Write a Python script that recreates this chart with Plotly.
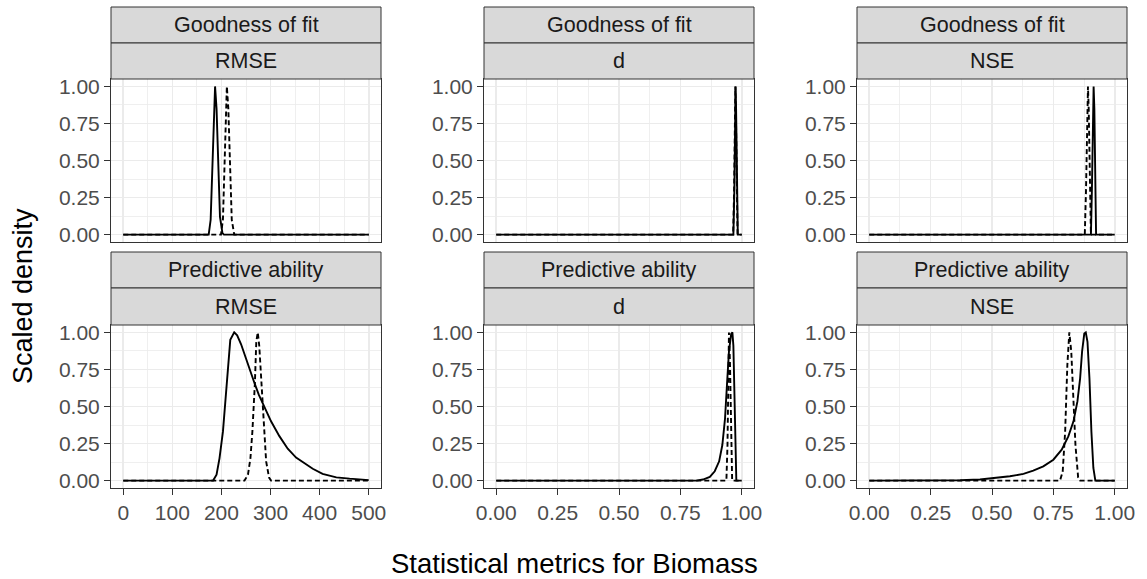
import plotly.graph_objects as go

W, H = 1147, 579

# ---------------- data ----------------
row_labels = ["Goodness of fit", "Predictive ability"]
metric_labels = ["RMSE", "d", "NSE"]

# Goodness of fit - RMSE
gof_rmse_solid_x = [0, 174, 178, 181, 184, 187, 190, 193, 197, 202, 205, 500]
gof_rmse_solid_y = [0, 0, 0.1, 0.4, 0.85, 1.0, 0.85, 0.45, 0.12, 0.01, 0, 0]
gof_rmse_dash_x = [0, 199, 203, 206, 209, 211, 214, 217, 221, 226, 500]
gof_rmse_dash_y = [0, 0, 0.1, 0.45, 0.88, 1.0, 0.85, 0.45, 0.1, 0, 0]

# Goodness of fit - d
gof_d_solid_x = [0, 0.966, 0.970, 0.973, 0.975, 0.977, 0.980, 0.984, 1.0]
gof_d_solid_y = [0, 0, 0.3, 0.85, 1.0, 0.85, 0.3, 0, 0]
gof_d_dash_x = [0, 0.965, 0.969, 0.972, 0.974, 0.976, 0.979, 0.983, 1.0]
gof_d_dash_y = [0, 0, 0.3, 0.85, 1.0, 0.85, 0.3, 0, 0]

# Goodness of fit - NSE
gof_nse_solid_x = [0, 0.903, 0.907, 0.911, 0.914, 0.917, 0.920, 0.924, 1.0]
gof_nse_solid_y = [0, 0, 0.3, 0.85, 1.0, 0.85, 0.3, 0, 0]
gof_nse_dash_x = [0, 0.878, 0.883, 0.888, 0.891, 0.894, 0.898, 0.903, 1.0]
gof_nse_dash_y = [0, 0, 0.3, 0.85, 1.0, 0.85, 0.3, 0, 0]

# Predictive ability - RMSE
pa_rmse_solid_x = [0, 183, 190, 196, 203, 209, 213, 218, 226, 232, 240, 249, 257,
                   266, 276, 288, 301, 318, 335, 352, 369, 386, 406, 434, 461, 500]
pa_rmse_solid_y = [0, 0, 0.04, 0.15, 0.33, 0.58, 0.80, 0.95, 1.0, 0.98, 0.92, 0.83,
                   0.75, 0.67, 0.58, 0.49, 0.40, 0.30, 0.215, 0.155, 0.115, 0.08, 0.045,
                   0.022, 0.013, 0.003]
pa_rmse_dash_x = [0, 247, 254, 259, 263, 268, 271, 274, 277, 281, 286, 291, 297, 301, 500]
pa_rmse_dash_y = [0, 0, 0.04, 0.15, 0.33, 0.65, 0.94, 1.0, 0.91, 0.69, 0.38, 0.13, 0.02, 0, 0]

# Predictive ability - d
pa_d_solid_x = [0, 0.815, 0.842, 0.870, 0.890, 0.908, 0.921, 0.932, 0.940, 0.948,
                0.957, 0.962, 0.966, 0.970, 0.974, 0.978, 1.0]
pa_d_solid_y = [0, 0, 0.007, 0.025, 0.063, 0.13, 0.24, 0.42, 0.65, 0.87, 0.99, 1.0,
                0.91, 0.58, 0.2, 0, 0]
pa_d_dash_x = [0, 0.9375, 0.942, 0.946, 0.948, 0.952, 0.957, 0.961, 1.0]
pa_d_dash_y = [0, 0, 0.24, 0.8, 1.0, 0.8, 0.24, 0, 0]

# Predictive ability - NSE
pa_nse_solid_x = [0, 0.30, 0.37, 0.451, 0.519, 0.573, 0.628, 0.668, 0.709, 0.75, 0.784,
                  0.811, 0.832, 0.848, 0.859, 0.867, 0.876, 0.882, 0.889, 0.897, 0.905,
                  0.913, 0.921, 1.0]
pa_nse_solid_y = [0, 0, 0.002, 0.007, 0.018, 0.029, 0.045, 0.067, 0.096, 0.141, 0.209,
                  0.298, 0.40, 0.534, 0.69, 0.87, 0.993, 1.0, 0.937, 0.69, 0.33,
                  0.085, 0, 0]
pa_nse_dash_x = [0, 0.777, 0.788, 0.798, 0.807, 0.815, 0.823, 0.832, 0.840, 0.851, 0.859, 1.0]
pa_nse_dash_y = [0, 0, 0.06, 0.33, 0.78, 1.0, 0.87, 0.53, 0.24, 0.02, 0, 0]

panels = [
    (gof_rmse_solid_x, gof_rmse_solid_y, gof_rmse_dash_x, gof_rmse_dash_y),
    (gof_d_solid_x, gof_d_solid_y, gof_d_dash_x, gof_d_dash_y),
    (gof_nse_solid_x, gof_nse_solid_y, gof_nse_dash_x, gof_nse_dash_y),
    (pa_rmse_solid_x, pa_rmse_solid_y, pa_rmse_dash_x, pa_rmse_dash_y),
    (pa_d_solid_x, pa_d_solid_y, pa_d_dash_x, pa_d_dash_y),
    (pa_nse_solid_x, pa_nse_solid_y, pa_nse_dash_x, pa_nse_dash_y),
]

x_ticks_rmse = [0, 100, 200, 300, 400, 500]
x_ticks_unit = [0, 0.25, 0.5, 0.75, 1.0]
x_ticklabels_rmse = ["0", "100", "200", "300", "400", "500"]
x_ticklabels_unit = ["0.00", "0.25", "0.50", "0.75", "1.00"]
y_ticks = [0, 0.25, 0.5, 0.75, 1.0]
y_ticklabels = ["0.00", "0.25", "0.50", "0.75", "1.00"]

x_title = "Statistical metrics for Biomass"
y_title = "Scaled density"

# ---------------- layout (pixel geometry) ----------------
col_px = [(111, 381), (484, 754), (857, 1127)]
row_panel_px = [(79, 242), (325, 488)]
row_strip_px = [(7, 43, 79), (252, 288, 325)]

def px(x):
    return x / W

def py(y):
    return 1 - y / H

FONT = "Liberation Sans, Arial, Helvetica, sans-serif"
BORDER = "#333333"
GRID = "#EBEBEB"

fig = go.Figure()
layout = dict(
    width=W, height=H,
    margin=dict(l=0, r=0, t=0, b=0),
    paper_bgcolor="white", plot_bgcolor="white",
    showlegend=False,
    font=dict(family=FONT),
)
shapes = []
annotations = []

for i, (sx, sy, dx, dy) in enumerate(panels):
    r, c = divmod(i, 3)
    n = i + 1
    xa = "x" if n == 1 else f"x{n}"
    ya = "y" if n == 1 else f"y{n}"
    fig.add_trace(go.Scatter(x=sx, y=sy, mode="lines", xaxis=xa, yaxis=ya,
                             line=dict(color="black", width=1.9), hoverinfo="skip"))
    fig.add_trace(go.Scatter(x=dx, y=dy, mode="lines", xaxis=xa, yaxis=ya,
                             line=dict(color="black", width=1.9, dash="5px,3px"),
                             hoverinfo="skip"))
    if c == 0:
        xr = [-25, 525]
        xt, xtl, minor_dt, minor_t0 = x_ticks_rmse, x_ticklabels_rmse, 100, 50
    else:
        xr = [-0.05, 1.05]
        xt, xtl, minor_dt, minor_t0 = x_ticks_unit, x_ticklabels_unit, 0.25, 0.125
    x0, x1 = col_px[c]
    y0, y1 = row_panel_px[r]
    show_x = (r == 1)
    layout["xaxis" if n == 1 else f"xaxis{n}"] = dict(
        domain=[px(x0), px(x1)], anchor=ya, range=xr,
        tickmode="array", tickvals=xt, ticktext=xtl,
        showticklabels=show_x, ticks="outside" if show_x else "",
        ticklen=6, tickwidth=1, tickcolor=BORDER,
        tickfont=dict(size=21, color="#4D4D4D", family=FONT),
        showgrid=True, gridcolor=GRID, gridwidth=1.6,
        minor=dict(tick0=minor_t0, dtick=minor_dt, showgrid=True,
                   gridcolor=GRID, gridwidth=0.8, ticks=""),
        showline=True, mirror=True, linecolor=BORDER, linewidth=1,
        zeroline=False, fixedrange=True, automargin=False,
    )
    layout["yaxis" if n == 1 else f"yaxis{n}"] = dict(
        domain=[py(y1), py(y0)], anchor=xa, range=[-0.05, 1.05],
        tickmode="array", tickvals=y_ticks, ticktext=y_ticklabels,
        ticks="outside", ticklen=6, tickwidth=1, tickcolor=BORDER,
        tickfont=dict(size=21, color="#4D4D4D", family=FONT),
        showgrid=True, gridcolor=GRID, gridwidth=1.6,
        minor=dict(tick0=0.125, dtick=0.25, showgrid=True,
                   gridcolor=GRID, gridwidth=0.8, ticks=""),
        showline=True, mirror=True, linecolor=BORDER, linewidth=1,
        zeroline=False, fixedrange=True, automargin=False,
    )
    # strips
    s0, s1, s2 = row_strip_px[r]
    for (ta, tb, label) in [(s0, s1, row_labels[r]), (s1, s2, metric_labels[c])]:
        shapes.append(dict(type="rect", xref="paper", yref="paper",
                           x0=px(x0), x1=px(x1), y0=py(tb), y1=py(ta),
                           fillcolor="#D9D9D9", line=dict(color=BORDER, width=1),
                           layer="above"))
        annotations.append(dict(xref="paper", yref="paper",
                                x=px((x0 + x1) / 2), y=py((ta + tb) / 2),
                                text=label, showarrow=False,
                                xanchor="center", yanchor="middle",
                                font=dict(size=21.5, color="#1A1A1A", family=FONT)))

annotations.append(dict(xref="paper", yref="paper", x=px(574), y=py(563),
                        text=x_title, showarrow=False, xanchor="center", yanchor="middle",
                        font=dict(size=27.5, color="black", family=FONT)))
annotations.append(dict(xref="paper", yref="paper", x=px(23), y=py(296),
                        text=y_title, showarrow=False, xanchor="center", yanchor="middle",
                        textangle=-90,
                        font=dict(size=27, color="black", family=FONT)))

layout["shapes"] = shapes
layout["annotations"] = annotations
fig.update_layout(**layout)
fig.write_html("out.html",
               config={"displayModeBar": False, "staticPlot": True},
               post_script="document.body.style.margin='0px';"
                           "document.body.style.overflow='hidden';")
